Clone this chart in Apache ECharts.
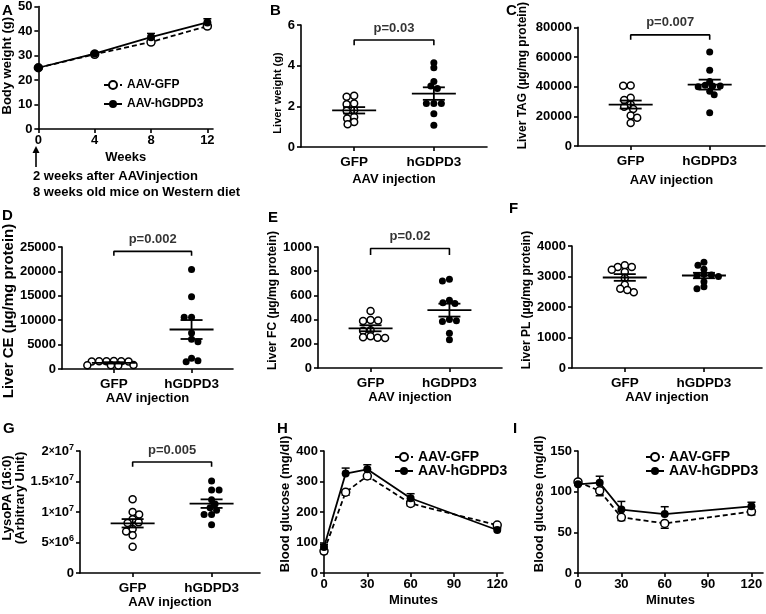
<!DOCTYPE html>
<html>
<head>
<meta charset="utf-8">
<script src="https://cdn.jsdelivr.net/npm/echarts@6/dist/echarts.min.js"></script>
<style>
html, body { margin: 0; padding: 0; background: #fff; }
#chart { width: 766px; height: 614px; }
</style>
</head>
<body>
<div id="chart"></div>
<script>
const FONT = '"Liberation Sans", Arial, Helvetica, sans-serif';
const BLACK = '#000';

// groups on the dot plots
const groups = ['GFP', 'hGDPD3'];
const groupX = [2, 5];

// B-G: one value per mouse
const liverWeightGFP = [2.47, 2.52, 2.14, 2.10, 1.81, 1.78, 1.48, 1.40, 1.23, 1.12];
const liverWeightHG = [3.90, 4.14, 3.00, 3.22, 2.88, 2.14, 2.14, 2.14, 1.64, 1.07];
const liverTagGFP = [40800, 40600, 32500, 31000, 28000, 26500, 25000, 20500, 19000, 15500];
const liverTagHG = [63400, 51000, 43500, 41000, 40500, 40500, 40000, 37000, 34500, 22500];
const liverCeGFP = [1650, 1600, 1600, 1550, 1600, 1550, 800, 750, 750, 700];
const liverCeHG = [20400, 14800, 10600, 10600, 7400, 6100, 5600, 2200, 1500, 1700];
const liverFcGFP = [471, 397, 392, 389, 312, 307, 262, 250, 248, 255];
const liverFcHG = [734, 720, 560, 540, 534, 400, 390, 384, 288, 233];
const liverPlGFP = [3310, 3220, 3310, 3370, 3150, 2950, 2730, 2600, 2480, 2560];
const liverPlHG = [3470, 3370, 3240, 3070, 3030, 3000, 3050, 2830, 2600, 2660];
const lysoPaGFP = [1.21e7, 1.0e7, 0.96e7, 0.88e7, 0.83e7, 0.82e7, 0.72e7, 0.68e7, 0.62e7, 0.43e7];
const lysoPaHG = [1.51e7, 1.36e7, 1.36e7, 1.2e7, 1.13e7, 1.07e7, 1.03e7, 0.96e7, 0.96e7, 0.79e7];

// significance brackets (B, C, D, E, F, G)
const pLabels = ['p=0.03', 'p=0.007', 'p=0.002', 'p=0.02', '', 'p=0.005'];
const bracketTop = [5.26, 74900, 24100, 987, null, 1.82e7];
const bracketLow = [5.0, 71700, 23200, 934, null, 1.74e7];

// A: body weight
const weeks = [0, 4, 8, 12];
const bodyWeightGFP = [25, 30.5, 35.5, 42];
const bodyWeightGFPSem = [0.6, 0.6, 0.8, 0.8];
const bodyWeightHG = [25, 30.8, 37.5, 43.5];
const bodyWeightHGSem = [0.6, 0.6, 1.5, 1.5];

// H: glucose tolerance, I: insulin tolerance
const minutes = [0, 15, 30, 60, 120];
const gttGFP = [72, 265, 318, 228, 157];
const gttGFPSem = [8, 10, 10, 8, 8];
const gttHG = [85, 326, 340, 245, 141];
const gttHGSem = [8, 18, 15, 15, 5];
const ittGFP = [112, 101, 68.5, 61, 75.5];
const ittGFPSem = [4, 6, 4, 6, 4];
const ittHG = [109, 111, 78, 72.5, 82];
const ittHGSem = [5, 8, 10, 9, 5];

const labelStyle = { color: BLACK, fontFamily: FONT, fontWeight: 'bold', fontSize: 13 };
const axisLineStyle = { color: BLACK, width: 1.6 };

function mean(a) {
    return a.reduce((s, v) => s + v, 0) / a.length;
}
function sem(a) {
    const m = mean(a);
    const v = a.reduce((s, x) => s + (x - m) * (x - m), 0) / (a.length - 1);
    return Math.sqrt(v / a.length);
}

// spread the dots sideways so they don't overlap too much (like prism does)
function swarm(vals, cx, pxX, pxY) {
    const dx = 7.2, dy = 4.8;
    const order = vals.map((v, i) => i).sort((a, b) => vals[b] - vals[a]);
    const placed = [];
    const out = [];
    order.forEach(function (i) {
        const py = vals[i] * pxY;
        let best = 0;
        for (let s = 0; s < 80; s += 0.5) {
            const cands = s === 0 ? [0] : (placed.length % 2 ? [-s, s] : [s, -s]);
            let found = null;
            for (const c of cands) {
                const free = placed.every(function (p) {
                    const a = (p.x - c) / dx, b = (p.y - py) / dy;
                    return a * a + b * b >= 1;
                });
                if (free) { found = c; break; }
            }
            if (found !== null) { best = found; break; }
        }
        placed.push({ x: best, y: py });
        out[i] = [cx + best / pxX, vals[i]];
    });
    return out;
}

function sciLabel(v) {
    if (v === 0) return '0';
    const e = Math.floor(Math.log10(v) + 1e-9);
    const m = +(v / Math.pow(10, e)).toFixed(2);
    return '{n|' + m + '}{x|×}{n|10}{e|' + e + '}';
}

function shiftPad(s) {
    if (!s) return 0;
    return s > 0 ? [0, 0, 0, 2 * s] : [0, -2 * s, 0, 0];
}

function meanSemItem(params, api) {
    const x = api.value(0), m = api.value(1), s = api.value(2);
    const c = api.coord([x, m]);
    const hi = api.coord([x, m + s]);
    const lo = api.coord([x, m - s]);
    const w = 22, cw = 11;
    const style = { stroke: BLACK, lineWidth: 1.8 };
    return {
        type: 'group', children: [
            { type: 'line', shape: { x1: c[0] - w, y1: c[1], x2: c[0] + w, y2: c[1] }, style: style },
            { type: 'line', shape: { x1: c[0], y1: hi[1], x2: c[0], y2: lo[1] }, style: style },
            { type: 'line', shape: { x1: c[0] - cw, y1: hi[1], x2: c[0] + cw, y2: hi[1] }, style: style },
            { type: 'line', shape: { x1: c[0] - cw, y1: lo[1], x2: c[0] + cw, y2: lo[1] }, style: style }
        ]
    };
}

function errItem(params, api) {
    const x = api.value(0), m = api.value(1), s = api.value(2), dir = api.value(3);
    const c = api.coord([x, m]);
    const e = api.coord([x, m + dir * s]);
    const style = { stroke: BLACK, lineWidth: 1.5 };
    return {
        type: 'group', children: [
            { type: 'line', shape: { x1: c[0], y1: c[1], x2: e[0], y2: e[1] }, style: style },
            { type: 'line', shape: { x1: e[0] - 4, y1: e[1], x2: e[0] + 4, y2: e[1] }, style: style }
        ]
    };
}

const grids = [], xAxes = [], yAxes = [], series = [], legends = [];

function yAxisOf(gi, p) {
    return {
        gridIndex: gi, type: 'value', min: 0, max: p.yMax, interval: p.yStep,
        name: p.yName, nameLocation: 'middle', nameGap: p.nameGap,
        nameTextStyle: Object.assign({}, labelStyle, { fontSize: p.nameSize, padding: shiftPad(p.shift), lineHeight: 12.5 }),
        axisLine: { show: true, lineStyle: axisLineStyle },
        axisTick: { show: true, length: 4, lineStyle: axisLineStyle },
        axisLabel: Object.assign({}, labelStyle, {
            margin: 6,
            formatter: p.fmt || (v => String(v)),
            rich: {
                n: { fontFamily: FONT, fontWeight: 'bold', fontSize: 13, color: BLACK },
                x: { fontFamily: FONT, fontWeight: 'bold', fontSize: 10, color: BLACK },
                e: { fontFamily: FONT, fontWeight: 'bold', fontSize: 9, color: BLACK, verticalAlign: 'top', padding: [0, 0, 7, 0] }
            }
        }),
        splitLine: { show: false }
    };
}

// dot plots B-G
const dotPanels = [
    { grid: [301, 25, 186, 122], xMax: 7, yMax: 6, yStep: 2, yName: 'Liver weight (g)', nameSize: 11, nameGap: 15, shift: -7, xGap: 26, gfp: liverWeightGFP, hg: liverWeightHG },
    { grid: [578, 24, 187, 122], xMax: 7.1, yMax: 80000, yStep: 20000, yName: 'Liver TAG (µg/mg protein)', nameSize: 12, nameGap: 49, shift: 11, xGap: 28, gfp: liverTagGFP, hg: liverTagHG },
    { grid: [59, 247, 174, 122], xMax: 6.6, yMax: 25000, yStep: 5000, yName: 'Liver CE (µg/mg protein)', nameSize: 15, nameGap: 38, shift: -3, xGap: 23, gfp: liverCeGFP, hg: liverCeHG },
    { grid: [318, 247, 184, 121], xMax: 7, yMax: 1000, yStep: 200, yName: 'Liver FC (µg/mg protein)', nameSize: 12, nameGap: 34, shift: 7, xGap: 22, gfp: liverFcGFP, hg: liverFcHG },
    { grid: [572, 246, 190, 122], xMax: 7.2, yMax: 4000, yStep: 1000, yName: 'Liver PL (µg/mg protein)', nameSize: 12, nameGap: 33, shift: 7, xGap: 22, gfp: liverPlGFP, hg: liverPlHG },
    { grid: [80, 451, 180, 122], xMax: 6.84, yMax: 2e7, yStep: 5e6, yName: 'LysoPA (16:0)\n(Arbitrary Unit)', nameSize: 13, nameGap: 51, shift: 14, xGap: 22, gfp: lysoPaGFP, hg: lysoPaHG, fmt: sciLabel }
];

dotPanels.forEach(function (p, k) {
    const gi = grids.length;
    grids.push({ left: p.grid[0], top: p.grid[1], width: p.grid[2], height: p.grid[3] });
    xAxes.push({
        gridIndex: gi, type: 'value', min: 0, max: p.xMax,
        name: 'AAV injection', nameLocation: 'middle', nameGap: p.xGap,
        nameTextStyle: labelStyle,
        axisLine: { show: true, lineStyle: axisLineStyle },
        axisTick: { show: true, length: 4, lineStyle: axisLineStyle, customValues: groupX },
        axisLabel: Object.assign({}, labelStyle, { fontSize: 13.5, margin: 8, customValues: groupX, formatter: v => groups[groupX.indexOf(v)] }),
        splitLine: { show: false }
    });
    yAxes.push(yAxisOf(gi, p));
    const pxX = p.grid[2] / p.xMax, pxY = p.grid[3] / p.yMax;
    series.push({
        type: 'scatter', xAxisIndex: gi, yAxisIndex: gi, symbol: 'circle', symbolSize: 7,
        itemStyle: { color: '#fff', borderColor: BLACK, borderWidth: 1.5, opacity: 1 },
        data: swarm(p.gfp, groupX[0], pxX, pxY), z: 2
    });
    series.push({
        type: 'scatter', xAxisIndex: gi, yAxisIndex: gi, symbol: 'circle', symbolSize: 7,
        itemStyle: { color: BLACK, opacity: 1 },
        data: swarm(p.hg, groupX[1], pxX, pxY), z: 2
    });
    series.push({
        type: 'custom', xAxisIndex: gi, yAxisIndex: gi, renderItem: meanSemItem, z: 3,
        encode: { x: 0, y: 1 },
        data: [[groupX[0], mean(p.gfp), sem(p.gfp)], [groupX[1], mean(p.hg), sem(p.hg)]]
    });
    if (bracketTop[k] != null) {
        series.push({
            type: 'line', xAxisIndex: gi, yAxisIndex: gi, symbol: 'none',
            lineStyle: { color: BLACK, width: 1.6 },
            data: [[groupX[0], bracketLow[k]], [groupX[0], bracketTop[k]], [groupX[1], bracketTop[k]], [groupX[1], bracketLow[k]]]
        });
        series.push({
            type: 'scatter', xAxisIndex: gi, yAxisIndex: gi, symbolSize: 1,
            itemStyle: { color: 'rgba(0,0,0,0)' },
            label: Object.assign({ show: true, position: 'top', distance: 5, formatter: pLabels[k] }, labelStyle),
            data: [[(groupX[0] + groupX[1]) / 2, bracketTop[k]]]
        });
    }
});

// line panels A, H, I
const linePanels = [
    { grid: [36, 6, 177, 123], x: weeks, xMax: 12.4, xTicks: weeks, yMax: 50, yStep: 10, yName: 'Body weight (g)', nameSize: 13, nameGap: 20, shift: 2, xName: 'Weeks', xGap: 22,
      gfp: bodyWeightGFP, gfpSem: bodyWeightGFPSem, hg: bodyWeightHG, hgSem: bodyWeightHGSem, legend: [98, 74, 12, 7] },
    { grid: [324, 451, 179, 122], x: minutes, xMax: 124, xTicks: [0, 30, 60, 90, 120], yMax: 400, yStep: 100, yName: 'Blood glucose (mg/dl)', nameSize: 13, nameGap: 28, shift: 8, xName: 'Minutes', xGap: 21,
      gfp: gttGFP, gfpSem: gttGFPSem, hg: gttHG, hgSem: gttHGSem, legend: [389, 445, 14, 0] },
    { grid: [578, 451, 185, 122], x: minutes, xMax: 128, xTicks: [0, 30, 60, 90, 120], yMax: 150, yStep: 50, yName: 'Blood glucose (mg/dl)', nameSize: 13, nameGap: 27, shift: 8, xName: 'Minutes', xGap: 21,
      gfp: ittGFP, gfpSem: ittGFPSem, hg: ittHG, hgSem: ittHGSem, legend: [640, 445, 14, 0] }
];

linePanels.forEach(function (p) {
    const gi = grids.length;
    grids.push({ left: p.grid[0], top: p.grid[1], width: p.grid[2], height: p.grid[3] });
    xAxes.push({
        gridIndex: gi, type: 'value', min: 0, max: p.xMax,
        name: p.xName, nameLocation: 'middle', nameGap: p.xGap, nameTextStyle: labelStyle,
        axisLine: { show: true, lineStyle: axisLineStyle },
        axisTick: { show: true, length: 4, lineStyle: axisLineStyle, customValues: p.xTicks },
        axisLabel: Object.assign({}, labelStyle, { margin: 5, customValues: p.xTicks, formatter: v => String(v) }),
        splitLine: { show: false }
    });
    yAxes.push(yAxisOf(gi, p));
    series.push({
        name: 'AAV-hGDPD3', type: 'line', xAxisIndex: gi, yAxisIndex: gi,
        symbol: 'circle', symbolSize: 8,
        itemStyle: { color: BLACK },
        lineStyle: { color: BLACK, width: 1.8 },
        data: p.x.map((x, i) => [x, p.hg[i]]), z: 3
    });
    series.push({
        name: 'AAV-GFP', type: 'line', xAxisIndex: gi, yAxisIndex: gi,
        symbol: 'circle', symbolSize: 8,
        itemStyle: { color: '#fff', borderColor: BLACK, borderWidth: 1.5 },
        lineStyle: { color: BLACK, width: 1.8, type: [5, 3] },
        data: p.x.map((x, i) => [x, p.gfp[i]]), z: 2
    });
    series.push({
        type: 'custom', xAxisIndex: gi, yAxisIndex: gi, renderItem: errItem, z: 1,
        encode: { x: 0, y: 1 },
        data: p.x.map((x, i) => [x, p.hg[i], p.hgSem[i], 1]).concat(p.x.map((x, i) => [x, p.gfp[i], p.gfpSem[i], -1]))
    });
    legends.push({
        left: p.legend[0], top: p.legend[1], orient: 'vertical', itemGap: p.legend[3], itemWidth: 18, itemHeight: 10,
        selectedMode: false, data: ['AAV-GFP', 'AAV-hGDPD3'],
        textStyle: { color: BLACK, fontFamily: FONT, fontWeight: 'bold', fontSize: p.legend[2] }
    });
});

// panel letters + the note under A
const letters = [['A', 2, 3], ['B', 270, 3], ['C', 506, 3], ['D', 2, 208], ['E', 268, 210], ['F', 509, 201], ['G', 3, 421], ['H', 277, 421], ['I', 513, 421]];
const graphics = letters.map(l => ({
    type: 'text', left: l[1], top: l[2],
    style: { text: l[0], fill: BLACK, font: 'bold 15px ' + FONT }
}));
graphics.push({ type: 'line', shape: { x1: 36, y1: 167, x2: 36, y2: 151 }, style: { stroke: BLACK, lineWidth: 1.6 } });
graphics.push({ type: 'polygon', shape: { points: [[36, 146], [32.5, 153], [39.5, 153]] }, style: { fill: BLACK } });
graphics.push({ type: 'text', left: 33, top: 170, style: { text: '2 weeks after AAVinjection', fill: BLACK, font: 'bold 13px ' + FONT } });
graphics.push({ type: 'text', left: 33, top: 186, style: { text: '8 weeks old mice on Western diet', fill: BLACK, font: 'bold 13px ' + FONT } });

const chart = echarts.init(document.getElementById('chart'));
chart.setOption({
    animation: false,
    backgroundColor: '#fff',
    grid: grids,
    xAxis: xAxes,
    yAxis: yAxes,
    legend: legends,
    series: series,
    graphic: graphics
});
</script>
</body>
</html>
